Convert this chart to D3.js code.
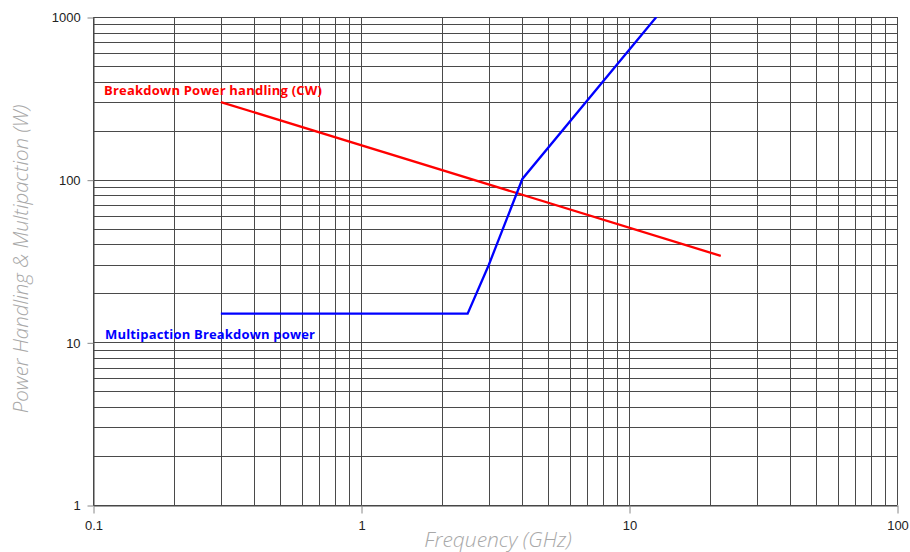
<!DOCTYPE html>
<html><head><meta charset="utf-8">
<script src="https://cdn.jsdelivr.net/npm/d3@7"></script>
<style>body{margin:0;background:#fff;} svg{display:block;}</style>
</head><body>
<svg id="c" width="910" height="552"></svg>
<script>
const xTicks = [0.1, 1, 10, 100];
const yTicks = [1, 10, 100, 1000];
const redFreq = [0.3, 22];
const redPower = [300, 34];
const blueFreq = [0.3, 2.5, 3, 4, 12.65];
const bluePower = [15, 15, 30, 101, 1000];
const redLabel = "Breakdown Power handling (CW)";
const blueLabel = "Multipaction Breakdown power";
const xTitle = "Frequency (GHz)";
const yTitle = "Power Handling & Multipaction (W)";

const svg = d3.select("#c");
const L = 93, R = 897, T = 17, B = 505;
const x = d3.scaleLog().domain([0.1, 100]).range([L, R]);
const y = d3.scaleLog().domain([1, 1000]).range([B, T]);

// minor+major grid
const gx = [], gy = [];
for (let d = 0.1; d < 100; d *= 10) for (let k = 1; k <= 10; k++) gx.push(+(d * k).toPrecision(3));
for (let d = 1; d < 1000; d *= 10) for (let k = 1; k <= 10; k++) gy.push(+(d * k).toPrecision(3));
const grid = svg.append("g");
grid.selectAll("line.v").data([...new Set(gx)]).join("line")
  .attr("x1", d => Math.round(x(d)) + 0.5).attr("x2", d => Math.round(x(d)) + 0.5)
  .attr("y1", T).attr("y2", B).attr("stroke", "#4a4a4a").attr("stroke-width", 1);
grid.selectAll("line.h").data([...new Set(gy)]).join("line")
  .attr("y1", d => Math.round(y(d)) + 0.5).attr("y2", d => Math.round(y(d)) + 0.5)
  .attr("x1", L).attr("x2", R).attr("stroke", "#4a4a4a").attr("stroke-width", 1);

// axes
const xa = svg.append("g").attr("transform", `translate(0.5,${B + 0.5})`)
  .call(d3.axisBottom(x).tickValues(xTicks).tickFormat(d => d).tickSize(6).tickSizeOuter(0));
const ya = svg.append("g").attr("transform", `translate(${L + 0.5},0.5)`)
  .call(d3.axisLeft(y).tickValues(yTicks).tickFormat(d => d).tickSize(6).tickSizeOuter(0));
[xa, ya].forEach(a => {
  a.select(".domain").attr("stroke", "#444");
  a.selectAll(".tick line").attr("stroke", "#888");
  a.selectAll("text").attr("font-family", "Liberation Sans, Arial, sans-serif")
    .attr("font-size", 13).attr("fill", "#222");
});
xa.selectAll(".tick line").attr("y2", 8);
xa.selectAll("text").attr("dy", "1.2em");
ya.selectAll("text").attr("dx", "-0.3em");

// lines
const line = d3.line().x(d => x(d[0])).y(d => y(d[1]));
svg.append("defs").append("clipPath").attr("id", "clip")
  .append("rect").attr("x", L).attr("y", T).attr("width", R - L).attr("height", B - T);
svg.append("path").datum(redFreq.map((f, i) => [f, redPower[i]]))
  .attr("d", line).attr("fill", "none").attr("stroke", "#ff0000").attr("stroke-width", 2.3)
  .attr("clip-path", "url(#clip)");
svg.append("path").datum(blueFreq.map((f, i) => [f, bluePower[i]]))
  .attr("d", line).attr("fill", "none").attr("stroke", "#0000ff").attr("stroke-width", 2.3)
  .attr("clip-path", "url(#clip)");

// annotations
svg.append("text").attr("x", 104).attr("y", 95).text(redLabel)
  .attr("font-family", "Open Sans, sans-serif").attr("font-weight", "bold")
  .attr("font-size", 13).attr("fill", "#ff0000").attr("textLength", 218);
svg.append("text").attr("x", 105).attr("y", 339).text(blueLabel)
  .attr("font-family", "Open Sans, sans-serif").attr("font-weight", "bold")
  .attr("font-size", 13).attr("fill", "#0000ff").attr("textLength", 210);

// titles
svg.append("text").attr("x", 498).attr("y", 547).attr("text-anchor", "middle").text(xTitle)
  .attr("font-family", "Open Sans, sans-serif").attr("font-style", "italic").attr("font-weight", 300)
  .attr("font-size", 21).attr("fill", "#a8a8a8");
svg.append("text").attr("transform", "translate(28,259) rotate(-90)").attr("text-anchor", "middle").text(yTitle)
  .attr("font-family", "Open Sans, sans-serif").attr("font-style", "italic").attr("font-weight", 300)
  .attr("font-size", 20.5).attr("fill", "#a8a8a8");
</script>
</body></html>
